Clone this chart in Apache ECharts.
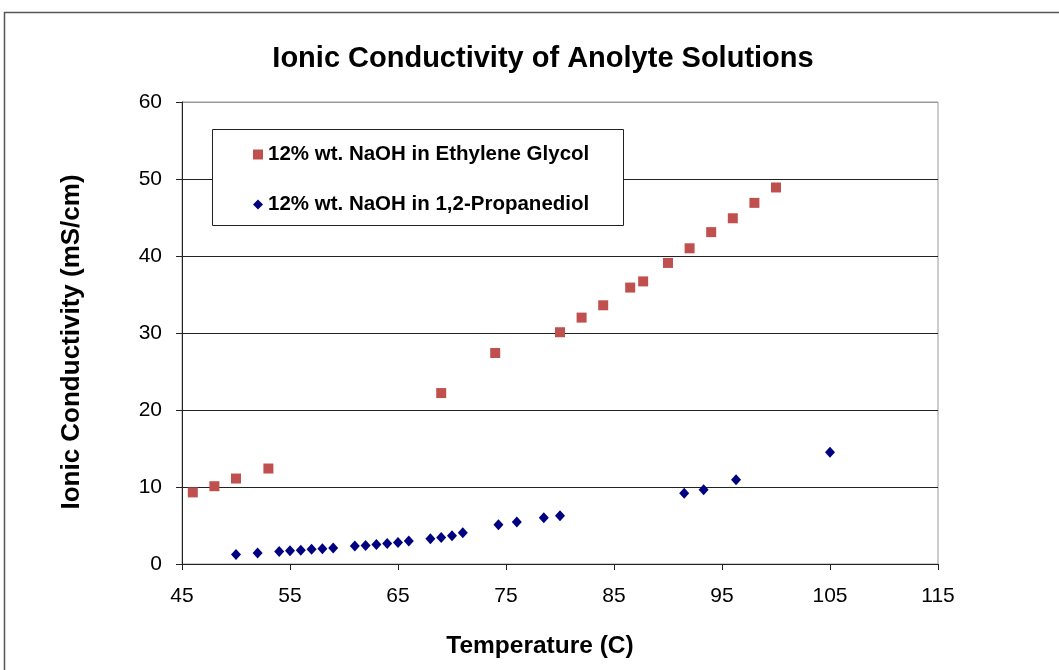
<!DOCTYPE html>
<html>
<head>
<meta charset="utf-8">
<script src="https://cdn.jsdelivr.net/npm/echarts@6/dist/echarts.min.js"></script>
<style>
  html, body { margin: 0; padding: 0; background: #fff; }
  #chart { width: 1059px; height: 670px; }
</style>
</head>
<body>
<div id="chart"></div>
<script>
// Ionic conductivity (mS/cm) versus temperature (C)
const glycolTemp = [46, 48, 50, 53, 69, 74, 80, 82, 84, 86.5, 87.7, 90, 92, 94, 96, 98, 100];
const glycolCond = [9.3, 10.1, 11.1, 12.4, 22.2, 27.4, 30.1, 32.0, 33.6, 35.9, 36.7, 39.1, 41.0, 43.1, 44.9, 46.9, 48.9];

const propTemp = [50, 52, 54, 55, 56, 57, 58, 59, 61, 62, 63, 64, 65, 66, 68, 69, 70, 71, 74.3, 76, 78.5, 80, 91.5, 93.3, 96.3, 105];
const propCond = [1.25, 1.43, 1.63, 1.72, 1.8, 1.9, 1.98, 2.07, 2.33, 2.4, 2.54, 2.67, 2.8, 2.98, 3.28, 3.45, 3.67, 4.06, 5.1, 5.45, 6.0, 6.26, 9.2, 9.63, 10.93, 14.5];

const xTicks = { min: 45, max: 115, step: 10 };
const yTicks = { min: 0, max: 60, step: 10 };

const seriesNames = ['12% wt. NaOH in Ethylene Glycol', '12% wt. NaOH in 1,2-Propanediol'];

const FONT = '"Liberation Sans", Arial, sans-serif';

const chart = echarts.init(document.getElementById('chart'));

const pair = (xs, ys) => xs.map((x, i) => [x, ys[i]]);

chart.setOption({
  animation: false,
  backgroundColor: '#fff',
  title: {
    text: 'Ionic Conductivity of Anolyte Solutions',
    left: 538,
    textAlign: 'center',
    top: 39,
    textStyle: { fontFamily: FONT, fontWeight: 'bold', fontSize: 29, color: '#000' }
  },
  grid: {
    left: 182, top: 102, right: 121, bottom: 106,
    show: true, borderColor: '#9a9a9a', borderWidth: 1, backgroundColor: 'transparent'
  },
  legend: {
    orient: 'vertical',
    left: 253,
    top: 144,
    padding: 0,
    itemGap: 29,
    itemWidth: 10,
    itemHeight: 10,
    itemStyle: { opacity: 1 },
    textStyle: { fontFamily: FONT, fontWeight: 'bold', fontSize: 20.5, lineHeight: 20, color: '#000' },
    data: [
      { name: seriesNames[0], icon: 'rect' },
      { name: seriesNames[1], icon: 'diamond' }
    ]
  },
  graphic: [
    {
      type: 'rect', silent: true, z: -1,
      shape: { x: 4.5, y: 12.5, width: 1100, height: 700 },
      style: { fill: 'none', stroke: '#555', lineWidth: 1.5 }
    },
    {
      type: 'rect', silent: true, z: 2,
      shape: { x: 212.5, y: 129.5, width: 411, height: 96 },
      style: { fill: '#fff', stroke: '#222', lineWidth: 1 }
    }
  ],
  xAxis: {
    type: 'value',
    min: xTicks.min, max: xTicks.max, interval: xTicks.step,
    name: 'Temperature (C)',
    nameLocation: 'middle',
    nameGap: 70,
    nameTextStyle: { fontFamily: FONT, fontWeight: 'bold', fontSize: 24.5, color: '#000', padding: [0, 40, 0, 0] },
    axisLine: { show: true, onZero: false, lineStyle: { color: '#222', width: 1 } },
    axisTick: { show: true, inside: false, length: 6, lineStyle: { color: '#222' } },
    axisLabel: { fontFamily: FONT, fontSize: 21, color: '#000', margin: 22 },
    splitLine: { show: false }
  },
  yAxis: {
    type: 'value',
    min: yTicks.min, max: yTicks.max, interval: yTicks.step,
    name: 'Ionic Conductivity (mS/cm)',
    nameLocation: 'middle',
    nameGap: 97,
    nameRotate: 90,
    nameTextStyle: { fontFamily: FONT, fontWeight: 'bold', fontSize: 26, color: '#000', padding: [0, 18, 0, 0] },
    axisLine: { show: true, lineStyle: { color: '#222', width: 1 } },
    axisTick: { show: true, inside: false, length: 6, lineStyle: { color: '#222' } },
    axisLabel: { fontFamily: FONT, fontSize: 21, color: '#000', margin: 20 },
    splitLine: {
      show: true,
      lineStyle: { color: ['#222', '#222', '#222', '#222', '#222', '#222', '#9a9a9a'], width: 1 }
    }
  },
  series: [
    {
      name: seriesNames[0],
      type: 'scatter',
      symbol: 'rect',
      symbolSize: 10,
      itemStyle: { color: '#C0504D', opacity: 1 },
      data: pair(glycolTemp, glycolCond),
      z: 3
    },
    {
      name: seriesNames[1],
      type: 'scatter',
      symbol: 'diamond',
      symbolSize: [10, 11],
      itemStyle: { color: '#000080', opacity: 1 },
      data: pair(propTemp, propCond),
      z: 3
    }
  ]
});
</script>
</body>
</html>
